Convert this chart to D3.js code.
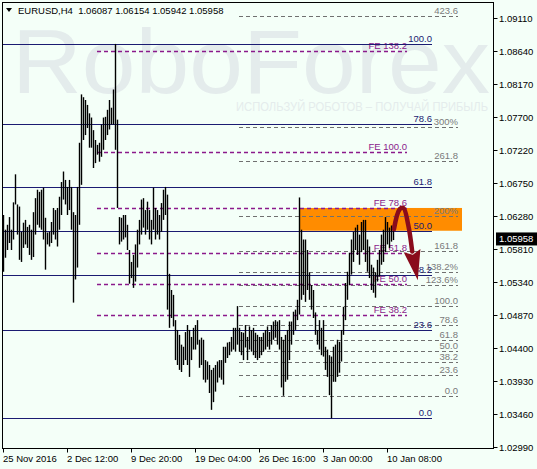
<!DOCTYPE html>
<html><head><meta charset="utf-8">
<script src="https://cdn.jsdelivr.net/npm/d3@7"></script>
<style>
html,body{margin:0;padding:0;background:#f4fff8;}
svg{display:block;}
text{font-family:"Liberation Sans",Arial,sans-serif;}
</style></head><body>
<svg id="c" width="537" height="469"></svg>
<script>
// ---------- data ----------
const symbol = "EURUSD,H4";
const headerValues = ["1.06087", "1.06154", "1.05942", "1.05958"];
const highs = [
1.0630,1.0609,1.0616,1.0627,1.0609,1.0648,1.0688,1.0645,1.0642,1.0606,
1.0619,1.0623,1.0613,1.0616,1.0609,1.0634,1.0654,1.0666,1.0663,1.0666,
1.0669,1.0626,1.0605,1.0606,1.0620,1.0640,1.0637,1.0640,1.0656,1.0677,
1.0692,1.0680,1.0670,1.0680,1.0670,1.0634,1.0630,1.0670,1.0733,1.0802,
1.0798,1.0794,1.0787,1.0775,1.0769,1.0751,1.0737,1.0730,1.0733,1.0759,
1.0769,1.0770,1.0780,1.0794,1.0783,1.0809,1.0874,1.0766,1.0627,1.0626,
1.0630,1.0630,1.0616,1.0580,1.0563,1.0573,1.0588,1.0609,1.0623,1.0652,
1.0654,1.0637,1.0649,1.0637,1.0623,1.0669,1.0640,1.0637,1.0630,1.0647,
1.0666,1.0670,1.0659,1.0546,1.0523,1.0516,1.0480,1.0466,1.0459,1.0445,
1.0442,1.0463,1.0473,1.0466,1.0456,1.0469,1.0473,1.0480,1.0452,1.0455,
1.0452,1.0423,1.0421,1.0416,1.0409,1.0412,1.0416,1.0421,1.0423,1.0423,
1.0442,1.0442,1.0448,1.0449,1.0456,1.0469,1.0469,1.0500,1.0469,1.0463,
1.0462,1.0473,1.0456,1.0471,1.0466,1.0469,1.0462,1.0459,1.0456,1.0456,
1.0462,1.0466,1.0471,1.0463,1.0473,1.0478,1.0480,1.0478,1.0480,1.0456,
1.0452,1.0459,1.0466,1.0478,1.0478,1.0492,1.0495,1.0509,1.0655,1.0609,
1.0595,1.0595,1.0580,1.0548,1.0530,1.0523,1.0491,1.0466,1.0480,1.0469,
1.0480,1.0442,1.0438,1.0430,1.0428,1.0442,1.0445,1.0452,1.0449,1.0466,
1.0499,1.0533,1.0549,1.0576,1.0595,1.0606,1.0612,1.0616,1.0602,1.0620,
1.0623,1.0623,1.0595,1.0585,1.0559,1.0555,1.0548,1.0566,1.0580,1.0602,
1.0609,1.0627,1.0620,1.0612,1.0615,1.06154];
const lows = [
1.0549,1.0569,1.0580,1.0590,1.0580,1.0595,1.0645,1.0602,1.0566,1.0563,
1.0583,1.0588,1.0583,1.0573,1.0566,1.0570,1.0602,1.0616,1.0612,1.0609,
1.0595,1.0552,1.0588,1.0585,1.0590,1.0602,1.0595,1.0585,1.0609,1.0630,
1.0652,1.0645,1.0630,1.0637,1.0609,1.0505,1.0538,1.0555,1.0616,1.0673,
1.0737,1.0744,1.0754,1.0726,1.0726,1.0697,1.0704,1.0716,1.0706,1.0713,
1.0723,1.0737,1.0744,1.0752,1.0759,1.0759,1.0723,1.0640,1.0588,1.0592,
1.0595,1.0598,1.0580,1.0532,1.0540,1.0526,1.0535,1.0555,1.0588,1.0602,
1.0612,1.0602,1.0609,1.0595,1.0588,1.0609,1.0595,1.0602,1.0595,1.0606,
1.0623,1.0630,1.0495,1.0469,1.0483,1.0471,1.0423,1.0416,1.0409,1.0406,
1.0416,1.0423,1.0416,1.0399,1.0423,1.0438,1.0438,1.0445,1.0412,1.0416,
1.0395,1.0391,1.0395,1.0376,1.0352,1.0363,1.0378,1.0391,1.0398,1.0395,
1.0388,1.0419,1.0426,1.0430,1.0435,1.0438,1.0435,1.0445,1.0435,1.0430,
1.0423,1.0441,1.0423,1.0438,1.0435,1.0430,1.0426,1.0423,1.0426,1.0430,
1.0435,1.0438,1.0442,1.0438,1.0445,1.0452,1.0455,1.0445,1.0438,1.0384,
1.0372,1.0392,1.0395,1.0423,1.0445,1.0459,1.0466,1.0480,1.0488,1.0509,
1.0516,1.0506,1.0523,1.0509,1.0495,1.0483,1.0459,1.0445,1.0438,1.0430,
1.0428,1.0409,1.0399,1.0373,1.0340,1.0392,1.0392,1.0399,1.0405,1.0421,
1.0459,1.0480,1.0509,1.0530,1.0545,1.0563,1.0580,1.0573,1.0559,1.0577,
1.0580,1.0563,1.0549,1.0540,1.0523,1.0519,1.0512,1.0535,1.0542,1.0559,
1.0563,1.0577,1.0588,1.0583,1.0592,1.05942];
const timeTickIndex = [0, 32, 64, 96, 128, 160, 192];
const timeTickLabels = ["25 Nov 2016", "2 Dec 12:00", "9 Dec 20:00", "19 Dec 04:00", "26 Dec 16:00", "3 Jan 00:00", "10 Jan 08:00"];
const priceTicks = [1.09110, 1.08640, 1.08170, 1.07700, 1.07220, 1.06750, 1.06280, 1.05810, 1.05340, 1.04870, 1.04400, 1.03930, 1.03460, 1.02990];
const priceTickLabels = ["1.09110","1.08640","1.08170","1.07700","1.07220","1.06750","1.06280","1.05810","1.05340","1.04870","1.04400","1.03930","1.03460","1.02990"];
const lastPrice = 1.05958;
const lastPriceLabel = "1.05958";

// Fibonacci retracement (navy)
const retrLevels = [0, 23.6, 38.2, 50, 61.8, 78.6, 100];
const retrLabels = ["0.0", "23.6", "38.2", "50.0", "61.8", "78.6", "100.0"];
const retrAnchors = [1.0340, 1.0874];      // 0% , 100%
const retrSpan = [-0.5, 214.5];             // bar index span
// Fibonacci expansion (purple, FE)
const feLevels = [38.2, 50, 61.8, 78.6, 100, 138.2];
const feLabels = ["FE 38.2", "FE 50.0", "FE 61.8", "FE 78.6", "FE 100.0", "FE 138.2"];
const feAnchors = [1.0343, 1.0720];
const feSpan = [47, 202];
// Fibonacci expansion (grey)
const expLevels = [0, 23.6, 38.2, 50, 61.8, 78.6, 100, 123.6, 138.2, 161.8, 200, 261.8, 300, 423.6];
const expLabels = ["0.0", "23.6", "38.2", "50.0", "61.8", "78.6", "100.0", "123.6%", "138.2%", "161.8", "200%", "261.8", "300%", "423.6"];
const expAnchors = [1.0372, 1.0500];
const expSpan = [118, 227.5];
// target zone and forecast arrow
const zoneIndex = [148, 229.5];
const zonePrice = [1.06400, 1.06075];
const arrowIndex = [195.5, 198.3, 200.2, 202.6, 204.6];
const arrowPrice = [1.0610, 1.0638, 1.0640, 1.0616, 1.0578];
const arrowTip = [207.4, 1.0537];
const watermark = "RoboForex";
const tagline = "ИСПОЛЬЗУЙ РОБОТОВ – ПОЛУЧАЙ ПРИБЫЛЬ";

// ---------- chart ----------
const W = 537, H = 469;
const plot = {l: 2.5, t: 2.5, r: 493.5, b: 448.5};
const svg = d3.select("#c");
const x = d3.scaleLinear().domain([0, 196]).range([3, 395]);
const y = d3.scaleLinear().domain([1.02990, 1.09110]).range([447, 18]);
const cy = v => Math.round(y(v)) + 0.5;
const cx = v => Math.round(x(v)) + 0.5;

svg.append("rect").attr("width", W).attr("height", H).attr("fill", "#f4fff8");

// watermark
svg.append("text").attr("x", 12).attr("y", 93).attr("font-size", 90)
  .attr("font-family", "Roboto, 'Liberation Sans', sans-serif").attr("font-weight", 500)
  .attr("textLength", 478).attr("lengthAdjust", "spacingAndGlyphs")
  .attr("fill", "#e4ecec").text(watermark);
svg.append("text").attr("x", 236).attr("y", 111).attr("font-size", 12)
  .attr("textLength", 252).attr("lengthAdjust", "spacingAndGlyphs")
  .attr("fill", "#e4ecec").text(tagline);

// zone
svg.append("rect")
  .attr("x", x(zoneIndex[0])).attr("width", x(zoneIndex[1]) - x(zoneIndex[0]))
  .attr("y", y(zonePrice[0])).attr("height", y(zonePrice[1]) - y(zonePrice[0]))
  .attr("fill", "#ff8c00");

function levels(lv, labels, anchors, span, color, dash, sw, txtColor) {
  const g = svg.append("g");
  lv.forEach((p, k) => {
    const price = anchors[0] + (anchors[1] - anchors[0]) * p / 100;
    const yy = cy(price);
    g.append("line").attr("x1", x(span[0])).attr("x2", x(span[1]))
      .attr("y1", yy).attr("y2", yy).attr("stroke", color)
      .attr("stroke-width", sw).attr("stroke-dasharray", dash);
    g.append("text").attr("x", x(span[1])).attr("y", yy - 2.5)
      .attr("text-anchor", "end").attr("font-size", 9.5)
      .attr("fill", txtColor).text(labels[k]);
  });
}
levels(expLevels, expLabels, expAnchors, expSpan, "#707070", "4,3", 1, "#7a7a7a");
levels(feLevels, feLabels, feAnchors, feSpan, "#8b1a8b", "4,3", 1.4, "#8b1a8b");
levels(retrLevels, retrLabels, retrAnchors, retrSpan, "#1b1b72", null, 1, "#1b1b72");

// bars
svg.append("g").selectAll("line").data(highs).join("line")
  .attr("x1", (d, i) => cx(i)).attr("x2", (d, i) => cx(i))
  .attr("y1", d => y(d)).attr("y2", (d, i) => y(lows[i]))
  .attr("stroke", "#000").attr("stroke-width", 1.4);

// arrow
const pts = arrowIndex.map((v, k) => [x(v), y(arrowPrice[k])]);
svg.append("path").attr("d", d3.line().curve(d3.curveCatmullRom)(pts))
  .attr("fill", "none").attr("stroke", "#8a0c1c").attr("stroke-width", 4.5)
  .attr("stroke-linecap", "round");
(function () {
  const tip = [x(arrowTip[0]), y(arrowTip[1])];
  const base = pts[pts.length - 1];
  const dx = tip[0] - base[0], dy = tip[1] - base[1];
  const len = Math.hypot(dx, dy), ux = dx / len, uy = dy / len;
  const hw = 8.5;
  const b = [tip[0] - ux * 30, tip[1] - uy * 30];
  svg.append("path").attr("d",
    `M${tip[0]},${tip[1]}L${b[0] - uy * hw},${b[1] + ux * hw}L${b[0] + ux * 4},${b[1] + uy * 4}L${b[0] + uy * hw},${b[1] - ux * hw}Z`)
    .attr("fill", "#8a0c1c");
})();

// frame
svg.append("rect").attr("x", plot.l).attr("y", plot.t)
  .attr("width", plot.r - plot.l).attr("height", plot.b - plot.t)
  .attr("fill", "none").attr("stroke", "#000").attr("stroke-width", 1);

// price axis
const pa = svg.append("g");
priceTicks.forEach((p, k) => {
  const yy = cy(p);
  pa.append("line").attr("x1", plot.r).attr("x2", plot.r + 4).attr("y1", yy).attr("y2", yy).attr("stroke", "#000");
  pa.append("text").attr("x", 499).attr("y", yy + 3.5).attr("font-size", 9.5).attr("fill", "#000").text(priceTickLabels[k]);
});
const ly = y(lastPrice);
svg.append("rect").attr("x", 496).attr("y", ly - 6.5).attr("width", 41).attr("height", 13).attr("fill", "#000");
svg.append("text").attr("x", 499).attr("y", ly + 3.5).attr("font-size", 9.5).attr("fill", "#fff").text(lastPriceLabel);

// time axis
const ta = svg.append("g");
timeTickIndex.forEach((t, k) => {
  const xx = cx(t);
  ta.append("line").attr("x1", xx).attr("x2", xx).attr("y1", plot.b).attr("y2", plot.b + 4).attr("stroke", "#000");
  ta.append("text").attr("x", xx - 0.5).attr("y", 462).attr("font-size", 9.5).attr("fill", "#000").text(timeTickLabels[k]);
});

// header
svg.append("path").attr("d", "M6,8L12,8L9,12Z").attr("fill", "#000");
svg.append("text").attr("x", 18).attr("y", 14).attr("font-size", 9.5).attr("fill", "#000")
  .attr("xml:space", "preserve").text(symbol + "  " + headerValues.join(" "));
</script></body></html>
